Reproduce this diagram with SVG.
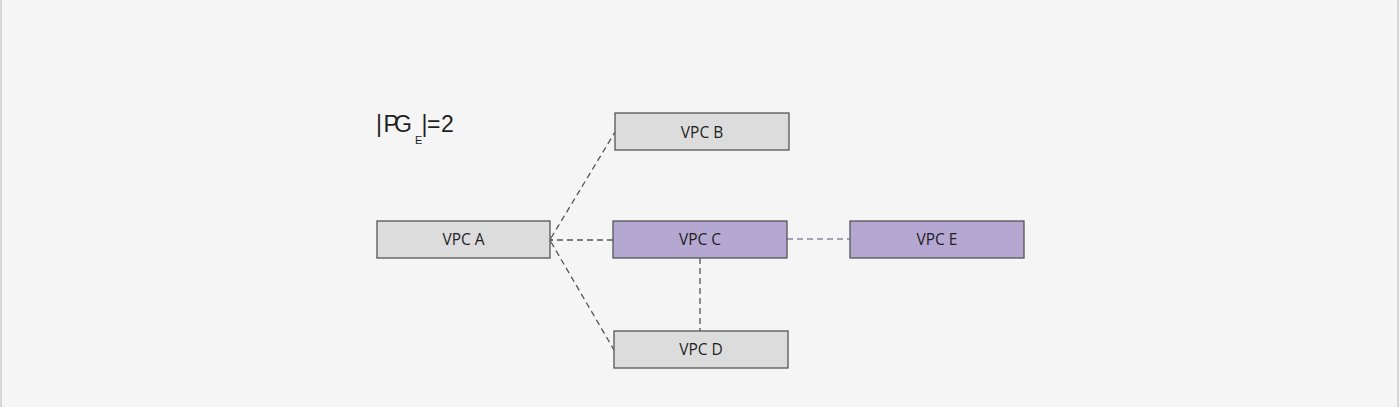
<svg xmlns="http://www.w3.org/2000/svg" width="1400" height="407" viewBox="0 0 1400 407">
<defs>
<style>
.node rect{stroke:#555;stroke-width:1.3}
.gray rect{fill:#dcdcdc}
.purple rect{fill:#b4a7d1}
.node text{font-family:"Open Sans","Liberation Sans",sans-serif;font-size:15.5px;fill:#1e1e1e;text-anchor:middle}
.conn{stroke:#555;stroke-width:1.3;stroke-dasharray:6,4;fill:none}
.light{stroke:#8f87a3}
.title{font-family:"Liberation Sans","Open Sans",sans-serif;fill:#1e1e1e}
</style>
<marker id="arr" markerWidth="10" markerHeight="10" refX="1" refY="5" orient="auto" markerUnits="userSpaceOnUse">
<path d="M6,1 L1,5 L6,9" fill="none" stroke="#555" stroke-width="1.3"/>
</marker>
</defs>
<rect x="0" y="0" width="1400" height="407" fill="#f5f5f5"/>
<rect x="0" y="0" width="2" height="407" fill="#d6d6d6"/>
<rect x="1397" y="0" width="2" height="407" fill="#d6d6d6"/>
<text class="title" font-size="23" x="376 383.5 394" y="132">|PG</text>
<text class="title" font-size="11" x="415" y="143.5">E</text>
<text class="title" font-size="23" x="421.5 427 441" y="132">|=2</text>
<g id="connectors">
<path class="conn" d="M551,238 L615,132"/>
<path class="conn" d="M613,240 L552,240" marker-end="url(#arr)"/>
<path class="conn" d="M551,242 L614,350"/>
<path class="conn" d="M700,258 L700,331"/>
<path class="conn light" d="M787,239 L850,239"/>
</g>
<g id="vpc-b" class="node gray"><rect x="615" y="113" width="174" height="37"/><text x="702" y="137.5">VPC B</text></g>
<g id="vpc-a" class="node gray"><rect x="377" y="221" width="173" height="37"/><text x="463.5" y="245">VPC A</text></g>
<g id="vpc-c" class="node purple"><rect x="613" y="221" width="174" height="37"/><text x="700" y="245">VPC C</text></g>
<g id="vpc-e" class="node purple"><rect x="850" y="221" width="174" height="37"/><text x="937" y="245">VPC E</text></g>
<g id="vpc-d" class="node gray"><rect x="614" y="331" width="174" height="37"/><text x="701" y="355">VPC D</text></g>
</svg>
